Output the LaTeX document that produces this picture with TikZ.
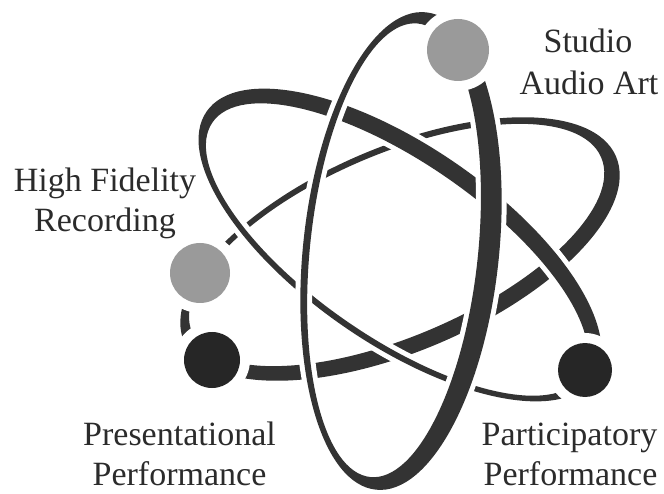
\documentclass[tikz,border=0pt]{standalone}
\usepackage{fontspec}
\setmainfont{Liberation Serif}
\definecolor{ringc}{HTML}{333333}
\definecolor{darkball}{HTML}{262626}
\definecolor{greyball}{HTML}{9A9A9A}
\definecolor{textc}{HTML}{2B2B2B}
\begin{document}
\begin{tikzpicture}[x=1pt,y=-1pt,
  ringfill/.style={fill=ringc, even odd rule},
  gapline/.style={draw=white, line width=10pt},
  ball/.style={circle, inner sep=0pt, minimum size=#1},
  lbl/.style={anchor=base, text=textc, font=\fontsize{34}{40}\selectfont, inner sep=0pt}]
\useasboundingbox (0,0) rectangle (664,494);
% orbit B (rising to the right), lowest layer
\begin{scope}[shift={(400,249)}, rotate=23.2]
  \fill[ringfill] (0,0) ellipse [x radius=235, y radius=102]
                  (-1.5,-5) ellipse [x radius=222.5, y radius=91];
\end{scope}
% orbit A (falling to the right), middle layer
\begin{scope}[shift={(400,245)}, rotate=-34.6]
  \draw[gapline] (0,0) ellipse [x radius=235, y radius=99]
                 (0,5.5) ellipse [x radius=224, y radius=87.5];
  \fill[ringfill] (0,0) ellipse [x radius=235, y radius=99]
                  (0,5.5) ellipse [x radius=224, y radius=87.5];
\end{scope}
% orbit V (upright), top layer
\begin{scope}[shift={(401,251)}, rotate=-6]
  \draw[gapline] (0,0) ellipse [x radius=98, y radius=240]
                 (-7,0) ellipse [x radius=84, y radius=228];
  \fill[ringfill] (0,0) ellipse [x radius=98, y radius=240]
                  (-7,0) ellipse [x radius=84, y radius=228];
\end{scope}
% balls with white gaps
\fill[white] (458,50) circle [radius=41];
\fill[white] (200,273) circle [radius=40];
\fill[white] (212,360) circle [radius=38];
\fill[white] (585,370) circle [radius=37];
\node[ball=62pt, fill=greyball] (studio) at (458,50) {};
\node[ball=60pt, fill=greyball] (hifi) at (200,273) {};
\node[ball=56pt, fill=darkball] (present) at (212,360) {};
\node[ball=54pt, fill=darkball] (partic) at (585,370) {};
% labels
\node[lbl] (studioA) at (588,53) {Studio};
\node[lbl] (studioB) at (589,95) {Audio Art};
\node[lbl] (hifiA) at (105,192) {High Fidelity};
\node[lbl] (hifiB) at (105,232) {Recording};
\node[lbl] (presA) at (179.5,445) {Presentational};
\node[lbl] (presB) at (179.5,485) {Performance};
\node[lbl] (partA) at (569.5,445) {Participatory};
\node[lbl] (partB) at (570.5,485) {Performance};
\end{tikzpicture}
\end{document}
